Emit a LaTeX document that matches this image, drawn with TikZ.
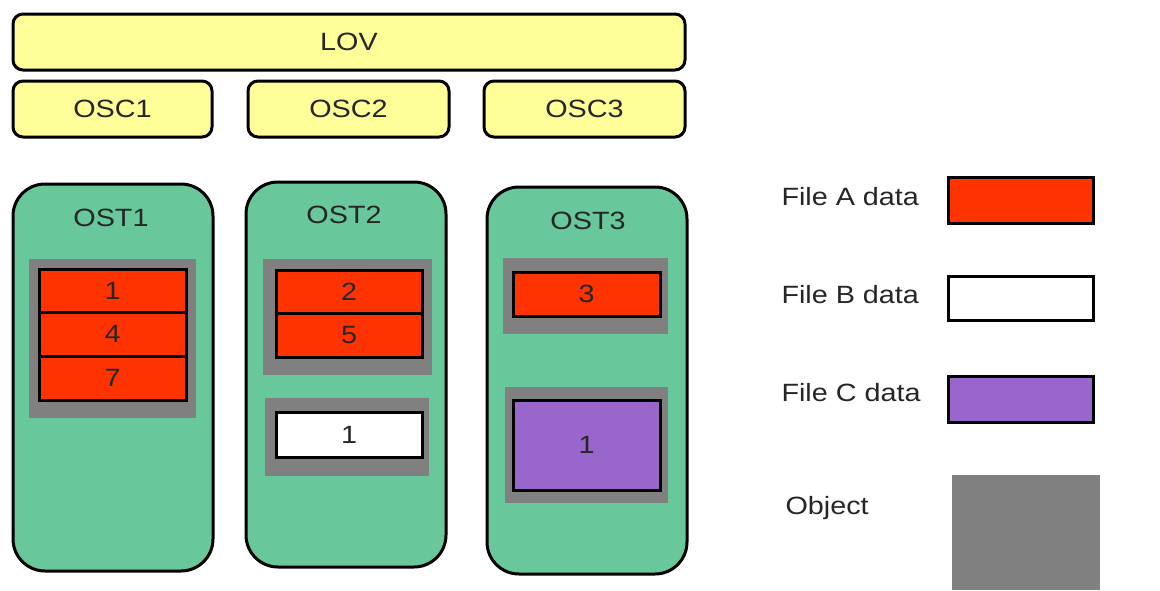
\documentclass[tikz,border=0pt]{standalone}
\usepackage{fontspec}
\setmainfont[FakeStretch=1.15]{Liberation Sans}
\begin{document}
\begin{tikzpicture}[x=1pt,y=-1pt,
  txt/.style={font=\fontsize{25}{28}\selectfont, text=black!85},
  yellowbox/.style={draw=black, line width=3pt, fill=boxyellow, rounded corners=10pt, txt},
  ostbox/.style={draw=black, line width=3pt, fill=ostgreen, rounded corners=32pt},
  objbox/.style={fill=objgray, draw=none},
  stripe/.style={draw=black, line width=3pt, txt, inner sep=0pt},
  fileA/.style={stripe, fill=fileared},
  fileB/.style={stripe, fill=white},
  fileC/.style={stripe, fill=filepurple},
]
\definecolor{boxyellow}{HTML}{FFFF99}
\definecolor{ostgreen}{HTML}{69C89B}
\definecolor{fileared}{HTML}{FF3300}
\definecolor{filepurple}{HTML}{9966CC}
\definecolor{objgray}{HTML}{808080}

\useasboundingbox[fill=white] (0,0) rectangle (1160,590);

% logical object volume and the three clients
\node[yellowbox, minimum width=672pt, minimum height=56pt] (lov) at (349,42) {LOV};
\node[yellowbox, minimum width=199pt, minimum height=56pt] (osc1) at (112.5,109) {OSC1};
\node[yellowbox, minimum width=201pt, minimum height=56pt] (osc2) at (348.5,109) {OSC2};
\node[yellowbox, minimum width=201pt, minimum height=56pt] (osc3) at (584.5,109) {OSC3};

% object storage targets
\node[ostbox, minimum width=200pt, minimum height=387pt] (ost1) at (113,377.5) {};
\node[ostbox, minimum width=200pt, minimum height=385pt] (ost2) at (346,374.5) {};
\node[ostbox, minimum width=200pt, minimum height=387pt] (ost3) at (587,380.5) {};
\node[txt] (ost1l) at (111,218) {OST1};
\node[txt] (ost2l) at (344,215) {OST2};
\node[txt] (ost3l) at (588,221) {OST3};

% OST1 objects
\node[objbox, minimum width=167pt, minimum height=159pt] (o11) at (112.5,338.5) {};
\node[fileA, minimum width=147pt, minimum height=43pt] (a1) at (112.5,291) {1};
\node[fileA, minimum width=147pt, minimum height=44pt] (a4) at (112.5,334) {4};
\node[fileA, minimum width=147pt, minimum height=44pt] (a7) at (112.5,378) {7};

% OST2 objects
\node[objbox, minimum width=169pt, minimum height=116pt] (o21) at (347.5,317) {};
\node[fileA, minimum width=146pt, minimum height=43pt] (a2) at (349,291.5) {2};
\node[fileA, minimum width=146pt, minimum height=44pt] (a5) at (349,335) {5};
\node[objbox, minimum width=164pt, minimum height=78pt] (o22) at (347,437) {};
\node[fileB, minimum width=146pt, minimum height=45pt] (b1) at (349,434.5) {1};

% OST3 objects
\node[objbox, minimum width=165pt, minimum height=76pt] (o31) at (585.5,296) {};
\node[fileA, minimum width=147pt, minimum height=44pt] (a3) at (586.5,294) {3};
\node[objbox, minimum width=163pt, minimum height=116pt] (o32) at (586.5,445) {};
\node[fileC, minimum width=147pt, minimum height=90pt] (c1) at (586.5,445) {1};

% legend
\node[txt, anchor=west] (la) at (778,197) {File A data};
\node[fileA, minimum width=145pt, minimum height=46pt] (ka) at (1021,200.5) {};
\node[txt, anchor=west] (lb) at (778,295) {File B data};
\node[fileB, minimum width=145pt, minimum height=44pt] (kb) at (1020.5,298) {};
\node[txt, anchor=west] (lc) at (778,393) {File C data};
\node[fileC, minimum width=145pt, minimum height=46pt] (kc) at (1020.5,399) {};
\node[txt, anchor=west] (lo) at (782,508) {Object};
\node[objbox, minimum width=148pt, minimum height=115pt] (ko) at (1026,532.5) {};
\end{tikzpicture}
\end{document}
